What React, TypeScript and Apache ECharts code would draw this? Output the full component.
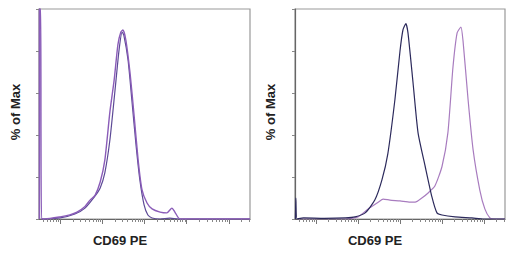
import React, { useEffect, useRef } from "react";
import * as echarts from "echarts";

// x in log-decade display units (0..5), y in % of Max
const LEFT_A: number[][] = [
  [0.01, 0], [0.01, 100], [0.04, 100], [0.06, 0], [0.14, 0], [0.5, 1], [0.73, 2], [0.9, 3.3],
  [1.09, 6], [1.21, 9], [1.33, 11.4], [1.45, 17.6], [1.56, 28], [1.68, 51], [1.78, 66],
  [1.87, 83], [1.94, 89], [1.99, 90], [2.06, 85], [2.16, 69], [2.25, 50], [2.35, 28],
  [2.44, 14], [2.56, 7.6], [2.68, 4.8], [2.87, 3.3], [3.03, 2.9], [3.15, 5.2], [3.22, 3.3],
  [3.34, 0], [5, 0],
];
const LEFT_B: number[][] = [
  [0.06, 0], [0.14, 0], [0.5, 0.5], [0.85, 2.4], [1.09, 5.2], [1.33, 11], [1.45, 14.8],
  [1.56, 22], [1.68, 37.6], [1.8, 61], [1.9, 81], [1.97, 89], [2.01, 87.6], [2.11, 75.7],
  [2.2, 56.7], [2.3, 35], [2.39, 18.6], [2.49, 6.7], [2.58, 1.9], [2.68, 0.5], [2.87, 0],
  [3.1, 0.4], [3.3, 0], [5, 0],
];
const RIGHT_DARK: number[][] = [
  [0.01, 0], [0.02, 10], [0.05, 0], [0.2, 0.5], [0.7, 0.3], [1.2, 0.5], [1.43, 1],
  [1.67, 2.9], [1.9, 9], [2.07, 18.6], [2.21, 31], [2.38, 57], [2.5, 80], [2.57, 90],
  [2.64, 93], [2.69, 88.6], [2.81, 65], [2.93, 41], [3.1, 25], [3.26, 10.5], [3.38, 2.9],
  [3.5, 1.9], [3.81, 1], [4.21, 0.5], [4.5, 0], [5, 0],
];
const RIGHT_MAG: number[][] = [
  [0.06, 0], [1.2, 0], [1.5, 1], [1.74, 4.8], [1.98, 8], [2.1, 9.5], [2.26, 9], [2.5, 8.6],
  [2.74, 8], [2.86, 8], [3.02, 10], [3.17, 12.4], [3.33, 15.7], [3.5, 25], [3.64, 41],
  [3.76, 72], [3.86, 88.6], [3.95, 91.4], [4.0, 85], [4.12, 57], [4.24, 33], [4.4, 13.8],
  [4.52, 4.8], [4.64, 0.5], [4.75, 0], [5, 0],
];

const DECADES = [0.5, 1.5, 2.5, 3.5, 4.5];
const MINOR_MULT = [2, 3, 4, 5, 6, 7, 8, 9];
const Y_TICKS = [0, 20, 40, 60, 80, 100];
const X_LABEL = "CD69 PE";
const Y_LABEL = "% of Max";

const minorTicks: number[] = [];
[-0.5, ...DECADES].forEach((d) =>
  MINOR_MULT.forEach((m) => {
    const v = d + Math.log10(m);
    if (v > 0 && v < 5) minorTicks.push(+v.toFixed(3));
  })
);

export default function App() {
  const ref = useRef<HTMLDivElement>(null);
  useEffect(() => {
    const chart = echarts.init(ref.current!, null, { renderer: "svg" });
    const grids = [
      { left: 39, top: 9, width: 211, height: 210 },
      { left: 295, top: 9, width: 210, height: 210 },
    ];
    const xAxes: any[] = [];
    const yAxes: any[] = [];
    [0, 1].forEach((g) => {
      xAxes.push({
        type: "value", gridIndex: g, min: 0, max: 5,
        axisLine: { show: true, lineStyle: { color: "#666", width: 1.2 } },
        axisTick: { show: true, length: 3, customValues: minorTicks, lineStyle: { color: "#888" } },
        axisLabel: { show: false }, splitLine: { show: false },
      });
      xAxes.push({
        type: "value", gridIndex: g, min: 0, max: 5, position: "bottom",
        axisLine: { show: false },
        axisTick: { show: true, length: 5, customValues: DECADES, lineStyle: { color: "#777" } },
        axisLabel: { show: false }, splitLine: { show: false },
      });
      yAxes.push({
        type: "value", gridIndex: g, min: 0, max: 100, interval: 20,
        axisLine: { show: true, lineStyle: { color: "#666", width: 1.2 } },
        axisTick: { show: true, length: 3, customValues: Y_TICKS, lineStyle: { color: "#888" } },
        axisLabel: { show: false }, splitLine: { show: false },
      });
    });
    const mk = (data: number[][], color: string, xi: number, yi: number, w = 1.2) => ({
      type: "line", data, xAxisIndex: xi, yAxisIndex: yi, showSymbol: false, symbol: "none",
      lineStyle: { color, width: w }, clip: true, smooth: 0.2,
    });
    chart.setOption({
      animation: false,
      grid: grids.map((g) => ({ ...g, show: true, borderColor: "#999", borderWidth: 1.2, backgroundColor: "#fff" })),
      xAxis: xAxes,
      yAxis: yAxes,
      series: [
        mk(LEFT_B, "#5d4a96", 0, 0),
        mk(LEFT_A, "#8a5cb8", 0, 0, 1.4),
        mk(RIGHT_MAG, "#a87cbf", 2, 1),
        mk(RIGHT_DARK, "#2c2a5c", 2, 1),
      ],
      graphic: [
        { type: "text", x: 120, y: 240, style: { text: X_LABEL, font: "bold 13px 'Liberation Sans', Arial, sans-serif", fill: "#222", align: "center", verticalAlign: "middle" } },
        { type: "text", x: 375, y: 240, style: { text: X_LABEL, font: "bold 13px 'Liberation Sans', Arial, sans-serif", fill: "#222", align: "center", verticalAlign: "middle" } },
        { type: "text", x: 15, y: 112, rotation: Math.PI / 2, style: { text: Y_LABEL, font: "bold 13px 'Liberation Sans', Arial, sans-serif", fill: "#222", align: "center", verticalAlign: "middle" } },
        { type: "text", x: 270, y: 112, rotation: Math.PI / 2, style: { text: Y_LABEL, font: "bold 13px 'Liberation Sans', Arial, sans-serif", fill: "#222", align: "center", verticalAlign: "middle" } },
      ],
    });
    return () => chart.dispose();
  }, []);
  return <div ref={ref} style={{ width: 507, height: 253, position: "absolute", left: 0, top: 0 }} />;
}
